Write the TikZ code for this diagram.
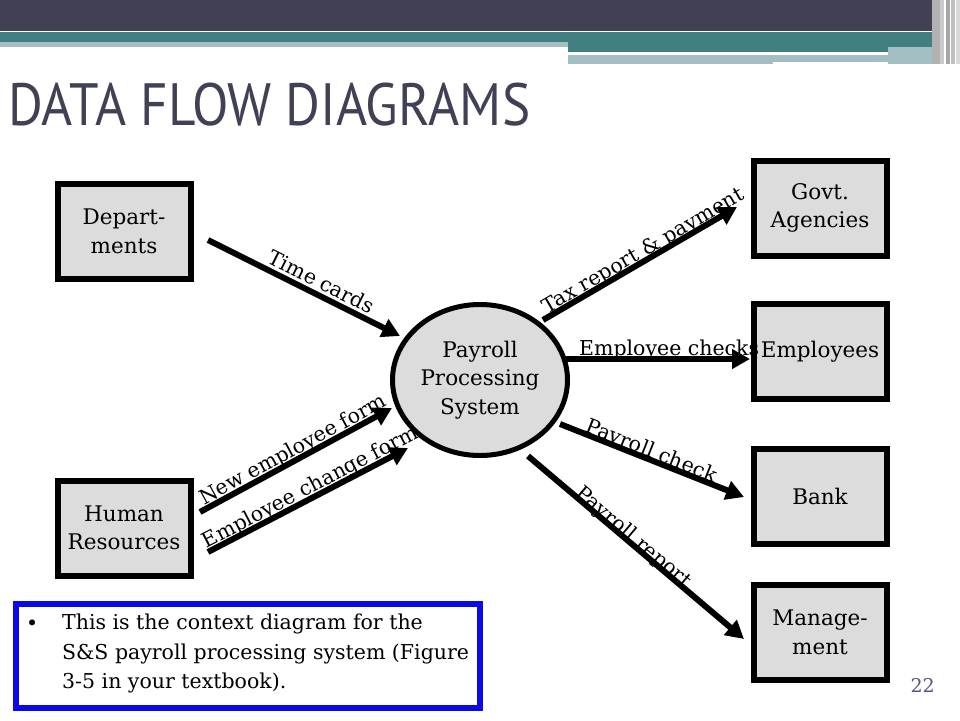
\documentclass[tikz,border=0pt]{standalone}
\usepackage{fontspec}
\usepackage{graphicx}
\setmainfont{DejaVu Serif}
\newfontfamily\titlefont{PT Sans}
\usetikzlibrary{shapes.geometric,arrows.meta}
\definecolor{barDark}{HTML}{414156}
\definecolor{barTeal}{HTML}{417F80}
\definecolor{barLight}{HTML}{A3BFC3}
\definecolor{boxFill}{HTML}{DCDCDC}
\definecolor{noteBlue}{HTML}{0A0AE6}
\definecolor{pageNum}{HTML}{55558A}
\tikzset{
  entity/.style={draw=black, line width=6pt, fill=boxFill, rectangle,
    minimum width=133pt, minimum height=95pt, inner sep=0pt, align=center,
    font=\fontsize{21.5}{28.5}\selectfont},
  process/.style={draw=black, line width=5pt, fill=boxFill, ellipse,
    minimum width=175pt, minimum height=151pt, inner sep=0pt, align=center,
    font=\fontsize{21.5}{28.5}\selectfont},
  flow/.style={line width=6pt, -{Triangle[length=18pt,width=19pt]}},
  flowlabel/.style={sloped, anchor=base, inner sep=0pt,
    font=\fontsize{20.5}{24}\selectfont}
}
\begin{document}
\begin{tikzpicture}[x=1pt,y=-1pt]
\useasboundingbox (0,0) rectangle (960,720);
% header bands
\fill[white] (0,0) rectangle (960,720);
\fill[barDark] (0,0) rectangle (960,31);
\fill[barTeal] (0,32) rectangle (940,42);
\fill[barLight] (0,42) rectangle (568,47);
\fill[barTeal] (568,42) rectangle (940,52);
\fill[barLight] (888,47) rectangle (940,64);
\fill[barLight] (568,55) rectangle (773,64);
\fill[barLight] (773,55) rectangle (940,62);
\fill[white] (568,52) rectangle (888,55);
\fill[gray!60] (932,0) rectangle (940,64);
\fill[gray!40] (940,0) rectangle (944,64);
\fill[white] (944,0) rectangle (946,64);
\fill[gray!70] (946,0) rectangle (950,64);
\fill[white] (950,0) rectangle (951,64);
\fill[gray!50] (951,0) rectangle (955,64);
\fill[white] (955,0) rectangle (956,64);
\fill[gray!30] (956,0) rectangle (960,64);
% title
\node[anchor=base west, inner sep=0pt, text=barDark] (title) at (8,125)
  {\resizebox{522pt}{42.5pt}{\titlefont DATA FLOW DIAGRAMS}};
% entities
\node[entity] (dep) at (124,231.5) {Depart-\\ments};
\node[entity] (hr) at (124,528) {Human\\Resources};
\node[entity] (gov) at (820,208) {Govt.\\Agencies};
\node[entity] (emp) at (820,351.5) {Employees};
\node[entity] (bank) at (820,496) {Bank};
\node[entity] (mgmt) at (820,632.5) {Manage-\\ment};
% process
\node[process] (proc) at (480,380) {Payroll\\Processing\\System};
% flow end points
\coordinate (tcS) at (208,240);   \coordinate (tcE) at (400,336);
\coordinate (neS) at (200,512);   \coordinate (neE) at (392,408);
\coordinate (ecS) at (208,552);   \coordinate (ecE) at (408,448);
\coordinate (txS) at (543,320);   \coordinate (txE) at (737,207);
\coordinate (chS) at (562,359);   \coordinate (chE) at (750,359);
\coordinate (pcS) at (560,424);   \coordinate (pcE) at (744,497);
\coordinate (prS) at (528,456);   \coordinate (prE) at (744,639);
% flows
\draw[flow] (tcS) -- node[flowlabel, pos=0.56]{\raisebox{6pt}{Time cards}} (tcE);
\draw[flow] (neS) -- node[flowlabel, pos=0.51]{\raisebox{4pt}{New employee form}} (neE);
\draw[flow] (ecS) -- node[flowlabel, pos=0.535]{\raisebox{4pt}{Employee change form}} (ecE);
\draw[flow] (txS) -- node[flowlabel, pos=0.54]{\raisebox{3pt}{Tax report \& payment}} (txE);
\draw[flow] (chS) -- node[flowlabel, pos=0.57]{\raisebox{4pt}{Employee checks}} (chE);
\draw[flow] (pcS) -- node[flowlabel, pos=0.48]{\raisebox{2pt}{Payroll check}} (pcE);
\draw[flow] (prS) -- node[flowlabel, pos=0.47]{\raisebox{0pt}{Payroll report}} (prE);
% note box
\node[draw=noteBlue, line width=6pt, rectangle, minimum width=464pt, minimum height=104pt,
  inner sep=0pt] (note) at (248,656) {};
\node[anchor=base west, inner sep=0pt, font=\fontsize{20.5}{29.5}\selectfont] (bullet) at (26,630) {\textbullet};
\node[anchor=north west, inner sep=0pt, align=left, font=\fontsize{20.5}{29.5}\selectfont]
  (notetext) at (62,614) {This is the context diagram for the\\S\&S payroll processing system (Figure\\3-5 in your textbook).};
% page number
\node[anchor=base east, inner sep=0pt, text=pageNum, font=\fontsize{19}{20}\selectfont] (page) at (935,692) {22};
\end{tikzpicture}
\end{document}
